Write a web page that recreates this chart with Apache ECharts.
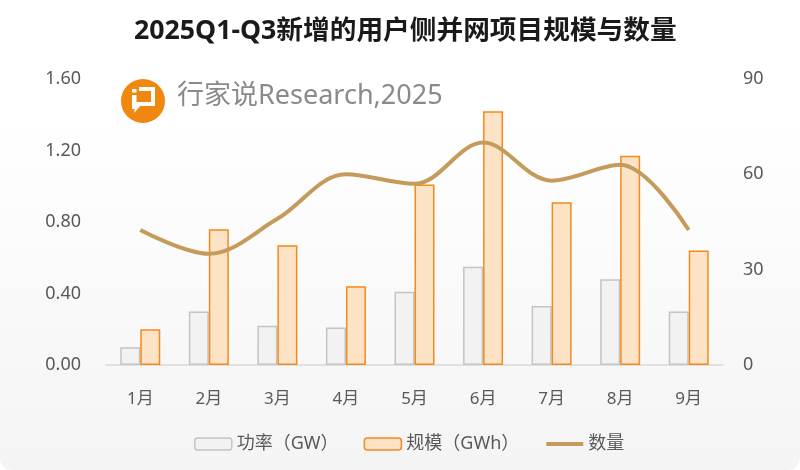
<!DOCTYPE html>
<html>
<head>
<meta charset="utf-8">
<script src="https://cdn.jsdelivr.net/npm/echarts@6/dist/echarts.min.js"></script>
<style>
html,body{margin:0;padding:0;background:#ffffff;}
#main{width:800px;height:470px;}
</style>
</head>
<body>
<div id="main"></div>
<script>
var categories = ['1月','2月','3月','4月','5月','6月','7月','8月','9月'];
var powerGW = [0.10, 0.30, 0.22, 0.21, 0.41, 0.55, 0.33, 0.48, 0.30];
var scaleGWh = [0.20, 0.76, 0.67, 0.44, 1.01, 1.42, 0.91, 1.17, 0.64];
var projectCount = [42.5, 35, 46, 60, 57, 70, 58, 63, 42.5];
var leftTicks = [0, 0.4, 0.8, 1.2, 1.6];
var rightTicks = [0, 30, 60, 90];

var FONT = '"Noto Sans", "Noto Sans CJK SC", sans-serif';
var chart = echarts.init(document.getElementById('main'));
chart.setOption({
  animation: false,
  backgroundColor: 'transparent',
  textStyle: { fontFamily: FONT },
  title: {
    text: '2025Q1-Q3新增的用户侧并网项目规模与数量',
    left: 129, top: 13,
    textStyle: { fontSize: 26.7, fontWeight: 'bold', color: '#1a1a1a', fontFamily: FONT }
  },
  graphic: [
    { type: 'rect', z: -10, silent: true, shape: { x: 0, y: 0, width: 800, height: 470, r: 12 },
      style: { fill: new echarts.graphic.LinearGradient(0, 0, 0, 1, [
        { offset: 0, color: '#ffffff' }, { offset: 0.25, color: '#ffffff' }, { offset: 1, color: '#f4f4f4' }]) } },
    { type: 'circle', z: 1, silent: true, shape: { cx: 143, cy: 101, r: 22 }, style: { fill: '#f0870f' } },
    { type: 'rect', z: 2, silent: true, shape: { x: 132, y: 89, width: 4.5, height: 3.5 }, style: { fill: '#ffffff' } },
    { type: 'rect', z: 2, silent: true, shape: { x: 132, y: 95, width: 4.5, height: 14 }, style: { fill: '#ffffff' } },
    { type: 'polyline', z: 2, silent: true, shape: { points: [[139, 89], [153, 89], [153, 104], [141, 104]] },
      style: { stroke: '#ffffff', lineWidth: 4, fill: null } },
    { type: 'polygon', z: 2, silent: true, shape: { points: [[136, 102], [144, 102], [134, 113]] }, style: { fill: '#ffffff' } },
    { type: 'text', z: 2, silent: true, left: 177, top: 83,
      style: { text: '行家说Research,2025', fontSize: 27, fill: '#8a8a8a', fontFamily: FONT } }
  ],
  legend: {
    bottom: 12, left: 189,
    itemWidth: 37, itemHeight: 12, itemGap: 25,
    textStyle: { fontSize: 18, color: '#595959', fontFamily: FONT },
    data: [
      { name: '功率（GW）', itemStyle: { color: '#f2f2f2', borderColor: '#c4c4c4', borderWidth: 1.5 } },
      { name: '规模（GWh）', itemStyle: { color: '#fde3c6', borderColor: '#f28a1e', borderWidth: 1.5 } },
      { name: '数量', itemStyle: { opacity: 0 }, lineStyle: { color: '#c49b5a', width: 4 } }
    ]
  },
  grid: { left: 106, right: 77, top: 79, bottom: 105, containLabel: false },
  xAxis: {
    type: 'category', data: categories,
    axisLine: { lineStyle: { color: '#d9d9d9', width: 1.5 } },
    axisTick: { show: false },
    axisLabel: { fontSize: 17, color: '#595959', margin: 26, fontFamily: FONT }
  },
  yAxis: [
    { type: 'value', min: 0, max: 1.6, interval: 0.4,
      axisLine: { show: false }, axisTick: { show: false }, splitLine: { show: false },
      axisLabel: { fontSize: 18, color: '#595959', margin: 25, fontFamily: FONT,
        formatter: function (v) { return v.toFixed(2); } } },
    { type: 'value', min: 0, max: 90, interval: 30,
      axisLine: { show: false }, axisTick: { show: false }, splitLine: { show: false },
      axisLabel: { fontSize: 18, color: '#595959', margin: 20, fontFamily: FONT } }
  ],
  series: [
    { name: '功率（GW）', type: 'bar', data: powerGW, barWidth: 20, barGap: '0%',
      itemStyle: { color: '#f2f2f2', borderColor: '#c4c4c4', borderWidth: 1.5 } },
    { name: '规模（GWh）', type: 'bar', data: scaleGWh, barWidth: 20,
      itemStyle: { color: '#fde3c6', borderColor: '#f28a1e', borderWidth: 1.5 } },
    { name: '数量', type: 'line', yAxisIndex: 1, data: projectCount, smooth: 0.35,
      showSymbol: false, symbol: 'none', z: 5,
      lineStyle: { color: '#c49b5a', width: 4 }, itemStyle: { color: '#c49b5a' } }
  ]
});
</script>
</body>
</html>
